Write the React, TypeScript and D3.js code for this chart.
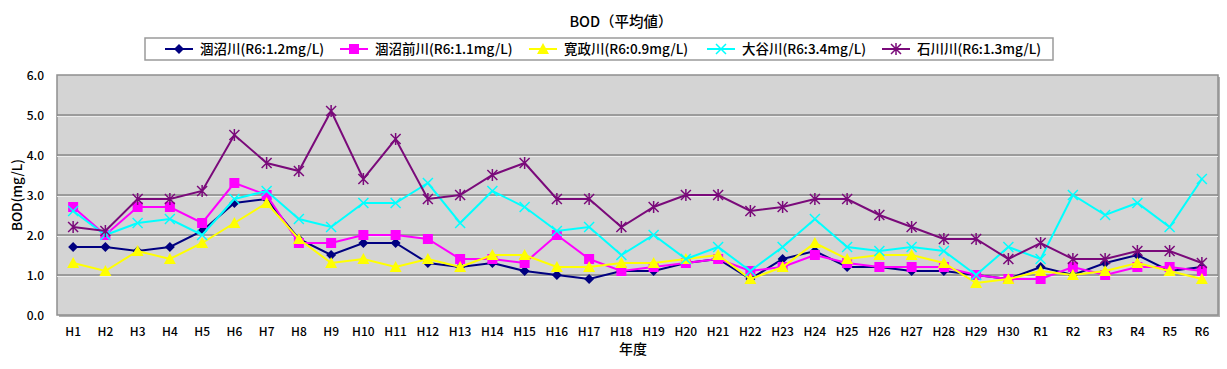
import React from 'react';
import * as d3 from 'd3';

const years = ['H1','H2','H3','H4','H5','H6','H7','H8','H9','H10','H11','H12','H13','H14','H15','H16','H17','H18','H19','H20','H21','H22','H23','H24','H25','H26','H27','H28','H29','H30','R1','R2','R3','R4','R5','R6'];

const kanumaRiver = [1.7,1.7,1.6,1.7,2.1,2.8,2.9,1.9,1.5,1.8,1.8,1.3,1.2,1.3,1.1,1.0,0.9,1.1,1.1,1.3,1.4,0.9,1.4,1.6,1.2,1.2,1.1,1.1,1.0,0.9,1.2,1.0,1.3,1.5,1.1,1.2];
const kanumaMae = [2.7,2.0,2.7,2.7,2.3,3.3,3.0,1.8,1.8,2.0,2.0,1.9,1.4,1.4,1.3,2.0,1.4,1.1,1.2,1.3,1.4,1.1,1.2,1.5,1.3,1.2,1.2,1.2,1.0,0.9,0.9,1.2,1.0,1.2,1.2,1.1];
const kanseiRiver = [1.3,1.1,1.6,1.4,1.8,2.3,2.8,1.9,1.3,1.4,1.2,1.4,1.2,1.5,1.5,1.2,1.2,1.3,1.3,1.4,1.5,0.9,1.2,1.8,1.4,1.5,1.5,1.3,0.8,0.9,1.1,1.0,1.1,1.3,1.1,0.9];
const oyaRiver = [2.6,2.0,2.3,2.4,2.0,2.9,3.1,2.4,2.2,2.8,2.8,3.3,2.3,3.1,2.7,2.1,2.2,1.5,2.0,1.4,1.7,1.1,1.7,2.4,1.7,1.6,1.7,1.6,1.0,1.7,1.4,3.0,2.5,2.8,2.2,3.4];
const ishikawaRiver = [2.2,2.1,2.9,2.9,3.1,4.5,3.8,3.6,5.1,3.4,4.4,2.9,3.0,3.5,3.8,2.9,2.9,2.2,2.7,3.0,3.0,2.6,2.7,2.9,2.9,2.5,2.2,1.9,1.9,1.4,1.8,1.4,1.4,1.6,1.6,1.3];

const yTicks = [0, 1, 2, 3, 4, 5, 6];

const series = [
  { name: '涸沼川(R6:1.2mg/L)', values: kanumaRiver, color: '#000080', marker: 'diamond' },
  { name: '涸沼前川(R6:1.1mg/L)', values: kanumaMae, color: '#ff00ff', marker: 'square' },
  { name: '寛政川(R6:0.9mg/L)', values: kanseiRiver, color: '#ffff00', marker: 'triangle' },
  { name: '大谷川(R6:3.4mg/L)', values: oyaRiver, color: '#00ffff', marker: 'cross' },
  { name: '石川川(R6:1.3mg/L)', values: ishikawaRiver, color: '#7a0a7a', marker: 'star' },
];

const W = 1227;
const H = 369;
const plot = { left: 57, right: 1218, top: 75, bottom: 315 };
const font = '"Noto Sans CJK JP", "Noto Sans", sans-serif';

const Marker = ({ type, x, y, color }) => {
  if (type === 'diamond') {
    const s = 5;
    return <path d={`M${x},${y - s}L${x + s},${y}L${x},${y + s}L${x - s},${y}Z`} fill={color} />;
  }
  if (type === 'square') {
    return <rect x={x - 5} y={y - 5} width={10} height={10} fill={color} />;
  }
  if (type === 'triangle') {
    return <path d={`M${x},${y - 6}L${x + 6},${y + 5}L${x - 6},${y + 5}Z`} fill={color} />;
  }
  if (type === 'cross') {
    const s = 5;
    return <path d={`M${x - s},${y - s}L${x + s},${y + s}M${x - s},${y + s}L${x + s},${y - s}`} stroke={color} strokeWidth={1.5} />;
  }
  // asterisk
  const s = 5;
  return (
    <path
      d={`M${x - s},${y - s}L${x + s},${y + s}M${x - s},${y + s}L${x + s},${y - s}M${x},${y - s - 1}L${x},${y + s + 1}`}
      stroke={color}
      strokeWidth={1.5}
    />
  );
};

// where each legend entry starts (line start)
const legendX = [165, 340, 529, 707, 882];

export default function App() {
  const x = d3.scaleBand().domain(years).range([plot.left, plot.right]);
  const y = d3.scaleLinear().domain([0, 6]).range([plot.bottom, plot.top]);
  const cx = (d: string) => (x(d) as number) + x.bandwidth() / 2;
  const line = d3.line<number>().x((d, i) => cx(years[i])).y(d => y(d));

  return (
    <svg width={W} height={H} style={{ position: 'absolute', left: 0, top: 0 }} fontFamily={font} fontWeight={500}>
      <rect width={W} height={H} fill="#fff" />
      <text x={621} y={27} textAnchor="middle" fontSize={14.5}>BOD（平均値）</text>

      {/* legend */}
      <rect x={145} y={38} width={908} height={22} fill="#fff" stroke="#9a9a9a" strokeWidth={1.5} />
      {series.map((s, i) => (
        <g key={s.name}>
          <line x1={legendX[i]} x2={legendX[i] + 28} y1={49} y2={49} stroke={s.color} strokeWidth={2} />
          <Marker type={s.marker} x={legendX[i] + 14} y={49} color={s.color} />
          <text x={legendX[i] + 35} y={54} fontSize={13.5}>{s.name}</text>
        </g>
      ))}

      {/* plot area */}
      <rect x={plot.left + 2} y={plot.top + 2} width={plot.right - plot.left} height={plot.bottom - plot.top} fill="#b0b0b0" />
      <rect x={plot.left} y={plot.top} width={plot.right - plot.left} height={plot.bottom - plot.top} fill="#d4d4d4" stroke="#8f8f8f" strokeWidth={1.5} />
      {yTicks.slice(1, -1).map(t => (
        <g key={t}>
          <line x1={plot.left} x2={plot.right} y1={y(t)} y2={y(t)} stroke="#888" strokeWidth={1.5} />
          <line x1={plot.left} x2={plot.right} y1={y(t) + 1.5} y2={y(t) + 1.5} stroke="#ececec" strokeWidth={1} />
        </g>
      ))}

      {yTicks.map(t => (
        <text key={t} x={44} y={y(t) + 4.5} textAnchor="end" fontSize={12}>{t.toFixed(1)}</text>
      ))}
      <text transform={`translate(22,${(plot.top + plot.bottom) / 2}) rotate(-90)`} textAnchor="middle" fontSize={13.5}>BOD(mg/L)</text>

      {years.map(d => (
        <text key={d} x={cx(d)} y={336} textAnchor="middle" fontSize={12}>{d}</text>
      ))}
      <text x={633} y={354} textAnchor="middle" fontSize={14}>年度</text>

      {series.map(s => (
        <g key={s.name}>
          <path d={line(s.values) as string} fill="none" stroke={s.color} strokeWidth={2} />
          {s.values.map((v, i) => (
            <Marker key={i} type={s.marker} x={cx(years[i])} y={y(v)} color={s.color} />
          ))}
        </g>
      ))}
    </svg>
  );
}
